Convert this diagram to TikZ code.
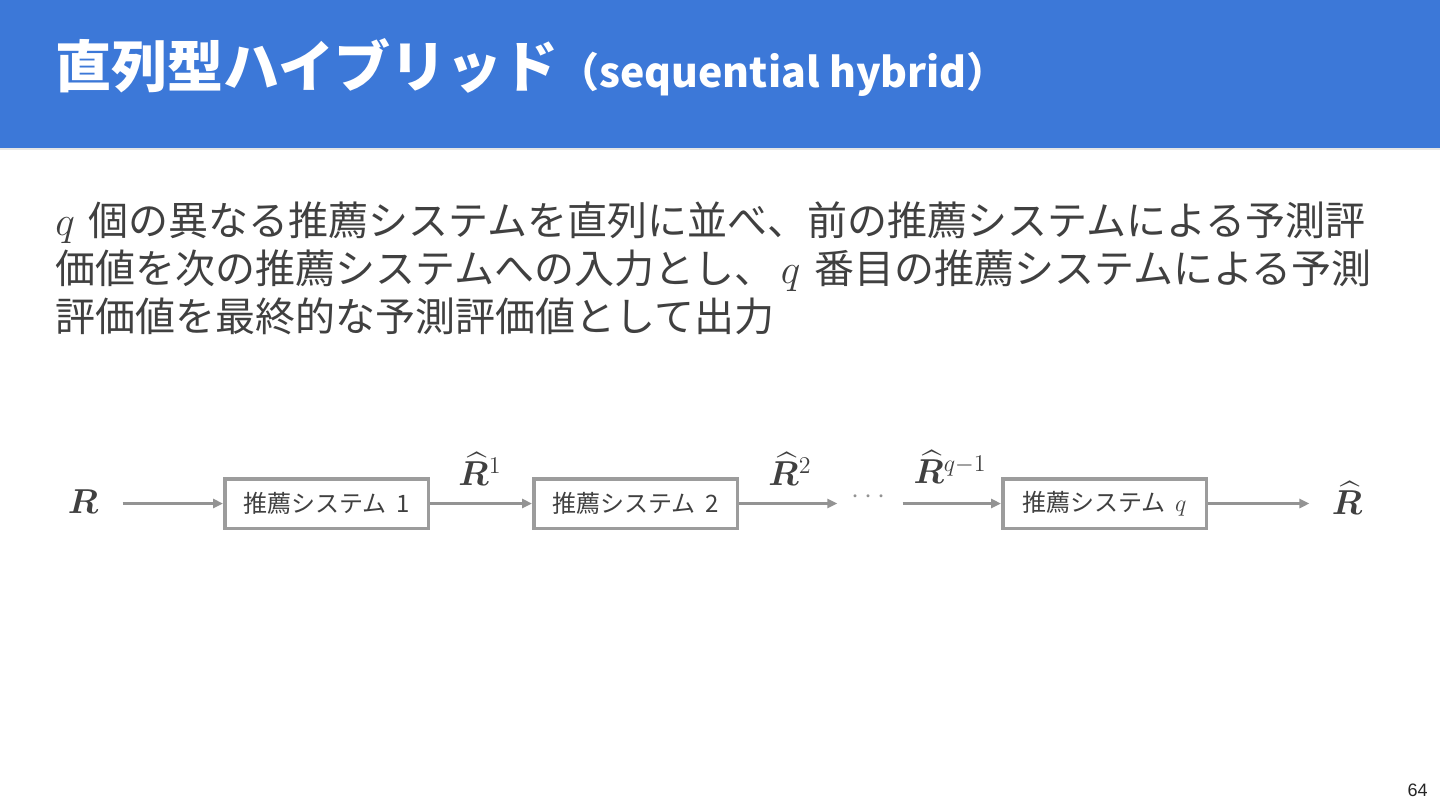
\documentclass[tikz,border=0pt]{standalone}
\usepackage{fontspec}
\usepackage{amsmath,bm}
\newfontfamily\jp{Noto Sans CJK JP}
\newfontfamily\pgnum{Liberation Sans}
\usetikzlibrary{arrows.meta}
\definecolor{hdrblue}{HTML}{3C78D8}
\definecolor{txtgray}{HTML}{404040}
\definecolor{boxgray}{HTML}{9C9C9C}
\definecolor{arrgray}{HTML}{939393}
\definecolor{rulegray}{HTML}{E6E6E6}
\tikzset{
  bodyline/.style={anchor=base west, inner sep=0pt, text=txtgray, font=\jp\fontsize{20}{24}\selectfont},
  sysbox/.style={draw=boxgray, line width=1.75pt, fill=white, minimum width=101.75pt, minimum height=24.75pt, inner sep=0pt, text=txtgray, font=\jp\fontsize{12}{14}\selectfont},
  mlabel/.style={inner sep=0pt, text=txtgray, font=\fontsize{17}{20}\selectfont},
  arr/.style={draw=arrgray, line width=1.25pt, -{Triangle[length=5pt,width=4.5pt]}}
}
\begin{document}
\begin{tikzpicture}[x=0.5pt,y=-0.5pt]
\useasboundingbox (0,0) rectangle (1440,810);
\fill[white] (0,0) rectangle (1440,810);
\fill[hdrblue] (0,0) rectangle (1440,148);
\fill[rulegray] (0,148) rectangle (1440,150);
\node[anchor=west, inner sep=0pt, text=white] (title) at (55,67)
  {\jp\bfseries\fontsize{28}{33}\selectfont 直列型ハイブリッド\fontsize{20.5}{24}\selectfont （sequential hybrid）};
\node[bodyline] (line1) at (55,235) {$q$\hspace{2.5pt} 個の異なる推薦システムを直列に並べ、前の推薦システムによる予測評};
\node[bodyline] (line2) at (55,283) {価値を次の推薦システムへの入力とし、\,$q$\hspace{2.5pt} 番目の推薦システムによる予測};
\node[bodyline] (line3) at (55,331) {評価値を最終的な予測評価値として出力};

\node[mlabel] (R) at (83,502) {$\bm{R}$};
\node[sysbox] (b1) at (326.5,503.5) {推薦システム\hspace{2pt} 1};
\node[sysbox] (b2) at (635.5,503.5) {推薦システム\hspace{2pt} 2};
\node[inner sep=0pt, text=arrgray, font=\fontsize{14}{16}\selectfont] (dots) at (871,497) {$\cdots$};
\node[sysbox] (bq) at (1104.5,503.5) {推薦システム\hspace{2pt} $q$};
\node[mlabel] (Rh) at (1347,498) {$\widehat{\bm{R}}$};

\node[mlabel] (l1) at (480,469) {$\widehat{\bm{R}}^{1}$};
\node[mlabel] (l2) at (790,469) {$\widehat{\bm{R}}^{2}$};
\node[mlabel] (lq) at (950,467) {$\widehat{\bm{R}}^{q-1}$};

\draw[arr, shorten <=12pt] (R.east |- b1.west) -- (b1.west);
\draw[arr] (b1.east) -- (b2.west);
\draw[arr, shorten >=7pt] (b2.east) -- (b2.east -| dots.west);
\draw[arr, shorten <=6pt] (bq.west -| dots.east) -- (bq.west);
\draw[arr, shorten >=11pt] (bq.east) -- (bq.east -| Rh.west);

\node[anchor=east, inner sep=0pt, text=black!85] (pg) at (1428,790) {\pgnum\fontsize{9}{11}\selectfont 64};
\end{tikzpicture}
\end{document}
